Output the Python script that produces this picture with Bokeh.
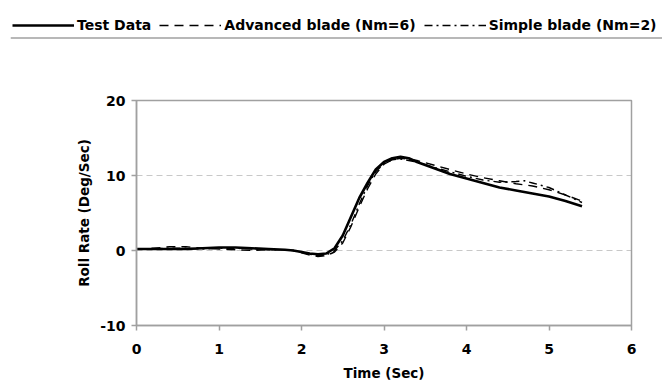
from bokeh.plotting import figure
from bokeh.models import Legend, LegendItem, FixedTicker, Range1d, LinearAxis, Span
from bokeh.embed import file_html
from bokeh.resources import INLINE

# ---- data ----
time_test = [0, 0.2, 0.4, 0.6, 0.8, 1.0, 1.2, 1.4, 1.6, 1.8, 1.9, 2.0, 2.1, 2.2, 2.3, 2.4, 2.5,
             2.6, 2.7, 2.8, 2.9, 3.0, 3.1, 3.2, 3.3, 3.4, 3.6, 3.8, 4.0, 4.2, 4.4, 4.6, 4.8, 5.0, 5.2, 5.4]
test_data = [0.2, 0.2, 0.2, 0.2, 0.3, 0.4, 0.4, 0.3, 0.2, 0.1, 0.0, -0.2, -0.4, -0.5, -0.4, 0.3, 2.0,
             4.5, 7.0, 9.0, 10.8, 11.8, 12.3, 12.5, 12.3, 11.8, 11.0, 10.2, 9.6, 9.0, 8.4, 8.0, 7.6, 7.2, 6.6, 5.9]

time_adv = [0, 0.2, 0.4, 0.6, 0.8, 1.0, 1.2, 1.4, 1.6, 1.8, 1.9, 2.0, 2.1, 2.2, 2.3, 2.4, 2.5,
            2.6, 2.7, 2.8, 2.9, 3.0, 3.1, 3.2, 3.3, 3.4, 3.6, 3.8, 4.0, 4.2, 4.4, 4.6, 4.8, 5.0, 5.2, 5.4]
advanced = [0.2, 0.3, 0.5, 0.5, 0.3, 0.2, 0.1, 0.0, 0.1, 0.1, 0.0, -0.3, -0.6, -0.8, -0.7, -0.2, 1.0,
            3.2, 5.8, 8.2, 10.2, 11.5, 12.1, 12.3, 12.2, 12.0, 11.4, 10.8, 10.2, 9.7, 9.3, 8.9, 8.6, 8.1, 7.4, 6.6]

time_simple = [0, 0.2, 0.4, 0.6, 0.8, 1.0, 1.2, 1.4, 1.6, 1.8, 1.9, 2.0, 2.1, 2.2, 2.3, 2.4, 2.5,
               2.6, 2.7, 2.8, 2.9, 3.0, 3.1, 3.2, 3.3, 3.4, 3.6, 3.8, 4.0, 4.2, 4.4, 4.6, 4.7, 4.8, 5.0, 5.2, 5.4]
simple = [0.2, 0.2, 0.3, 0.3, 0.2, 0.3, 0.3, 0.2, 0.1, 0.1, 0.0, -0.2, -0.5, -0.7, -0.6, 0.0, 1.3,
          3.5, 6.2, 8.6, 10.5, 11.6, 12.1, 12.2, 12.0, 11.8, 11.1, 10.5, 9.9, 9.4, 9.1, 9.2, 9.3, 9.0, 8.4, 7.4, 6.4]

x_ticks = [0, 1, 2, 3, 4, 5, 6]
y_ticks = [-10, 0, 10, 20]
y_tick_labels = ["-10", "0", "10", "20"]
y_grid = [0, 10]

labels = ["Test Data", "Advanced blade (Nm=6)", "Simple blade (Nm=2)"]

FONT = "DejaVu Sans"
GRAY = "#a0a0a0"

styles = [
    dict(line_color="black", line_width=2.6, line_dash="solid"),
    dict(line_color="black", line_width=1.4, line_dash="9 6"),
    dict(line_color="black", line_width=1.4, line_dash="8 4 2 4"),
]

# ---- layout in pixels: plot box from x=136..631, y=100..325 on a 662x382 canvas ----
W, H = 662, 382
FRAME_LEFT = 10
BOX_L, BOX_R, BOX_T, BOX_B = 136, 631, 100, 325
x0, x1 = x_ticks[0], x_ticks[-1]
y0, y1 = y_ticks[0], y_ticks[-1]
sx = (BOX_R - BOX_L) / (x1 - x0)
sy = (BOX_B - BOX_T) / (y1 - y0)
x_start = x0 - (BOX_L - FRAME_LEFT) / sx
x_end = x1 + (W - BOX_R) / sx
y_end = y1 + BOX_T / sy
y_start = y0 - (H - BOX_B) / sy

p = figure(width=W, height=H, output_backend="svg", toolbar_location=None,
           x_range=Range1d(x_start, x_end), y_range=Range1d(y_start, y_end),
           x_axis_type=None, y_axis_type=None,
           min_border=0, min_border_left=FRAME_LEFT)
p.outline_line_color = None
p.xgrid.visible = False
p.ygrid.visible = False

# gridlines inside the plot box
p.segment(x0=[x0] * len(y_grid), x1=[x1] * len(y_grid), y0=y_grid, y1=y_grid,
          line_color="#c8c8c8", line_dash="6 4", line_width=1.2)

renderers = [
    p.line(time_test, test_data, **styles[0]),
    p.line(time_adv, advanced, **styles[1]),
    p.line(time_simple, simple, **styles[2]),
]

# plot box
p.quad(left=[x0], right=[x1], bottom=[y0], top=[y1], fill_color=None,
       line_color=GRAY, line_width=1.5)

# axes pinned to the box edges
yax = LinearAxis(fixed_location=x0, bounds=(y0, y1), ticker=FixedTicker(ticks=y_ticks),
                 axis_label="Roll Rate (Deg/Sec)")
xax = LinearAxis(fixed_location=y0, bounds=(x0, x1), ticker=FixedTicker(ticks=x_ticks),
                 axis_label="Time (Sec)")
yax.major_label_overrides = dict(zip(y_ticks, y_tick_labels))
for ax in (xax, yax):
    ax.axis_line_color = GRAY
    ax.axis_line_width = 1.5
    ax.major_tick_line_color = GRAY
    ax.major_tick_line_width = 1.5
    ax.minor_tick_line_color = None
    ax.major_tick_in = 0
    ax.major_tick_out = 5
    ax.major_label_text_font = FONT
    ax.major_label_text_font_style = "bold"
    ax.major_label_text_font_size = "14px"
    ax.major_label_text_color = "black"
    ax.axis_label_text_font = FONT
    ax.axis_label_text_font_style = "bold"
    ax.axis_label_text_font_size = "13.5px"
    ax.axis_label_text_color = "black"
xax.major_label_standoff = 13
yax.major_label_standoff = 6
xax.axis_label_standoff = 8
yax.axis_label_standoff = 5
p.add_layout(yax, "left")
p.add_layout(xax, "below")

# legend strip at the top
LEG_CENTER_Y = 25
items = [LegendItem(label=lab, renderers=[r]) for lab, r in zip(labels, renderers)]
leg = Legend(items=items, orientation="horizontal", location=(2, H - LEG_CENTER_Y - 9),
             label_text_font=FONT, label_text_font_style="bold", label_text_font_size="14px",
             label_text_color="black",
             glyph_width=62, glyph_height=18, label_standoff=3, spacing=8,
             padding=0, margin=0, border_line_color=None, background_fill_alpha=0)
p.add_layout(leg, "center")

# rule under the legend
RULE_Y = 37.5
p.add_layout(Span(location=y1 + (BOX_T - RULE_Y) / sy, dimension="width",
                  line_color=GRAY, line_width=1.5))

open("out.html", "w").write(file_html(p, INLINE))
